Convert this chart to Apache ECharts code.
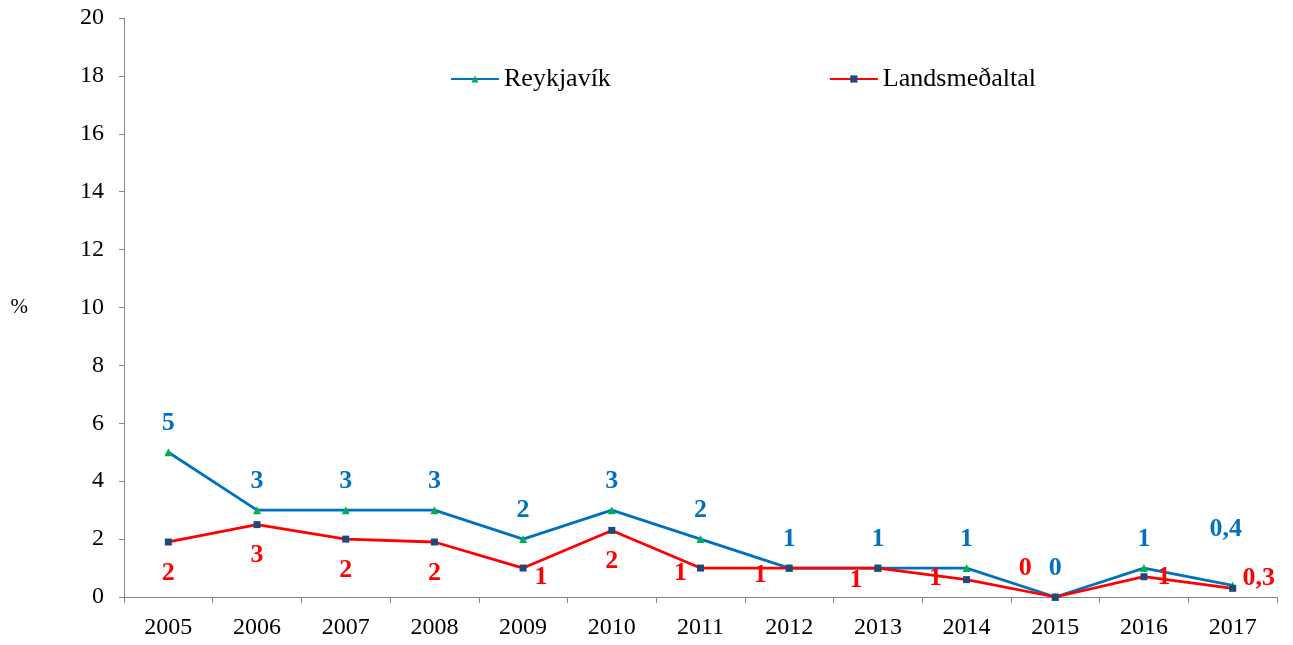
<!DOCTYPE html>
<html>
<head>
<meta charset="UTF-8">
<title></title>
<script src="https://cdn.jsdelivr.net/npm/echarts@6/dist/echarts.min.js"></script>
</head>
<body style="margin:0;background:#fff">
<div id="main" style="width:1293px;height:645px;"></div>
<script type="text/javascript">
var years = ['2005', '2006', '2007', '2008', '2009', '2010', '2011', '2012', '2013', '2014', '2015', '2016', '2017'];
var reykjavik = [5, 3, 3, 3, 2, 3, 2, 1, 1, 1, 0, 1, 0.4];
var landsmedaltal = [1.9, 2.5, 2.0, 1.9, 1.0, 2.3, 1.0, 1.0, 1.0, 0.6, 0.0, 0.7, 0.3];
var reykjavikLabels = ['5', '3', '3', '3', '2', '3', '2', '1', '1', '1', '0', '1', '0,4'];
var landsLabels = ['2', '3', '2', '2', '1', '2', '1', '1', '1', '1', '0', '1', '0,3'];
var yTicks = [0, 2, 4, 6, 8, 10, 12, 14, 16, 18, 20];

// label offsets for the red series (placement only)
var redOffsets = [[0, 31], [0, 31], [0, 31], [0, 31], [18, 9], [0, 31], [-20, 5], [-29, 7], [-22, 12], [-31, -1], [-30, -29], [20, 1], [26, -10]];

var font = 'Liberation Serif';

var blueData = reykjavik.map(function (v, i) {
	return {
		value: v,
		label: {
			formatter: reykjavikLabels[i],
			offset: i === 12 ? [-7, -27] : [0, 0]
		}
	};
});
var redData = landsmedaltal.map(function (v, i) {
	return {
		value: v,
		label: {
			formatter: landsLabels[i],
			offset: redOffsets[i]
		}
	};
});

var myChart = echarts.init(document.getElementById('main'));
myChart.setOption({
	backgroundColor: '#fff',
	animation: false,
	grid: { left: 124, right: 16, top: 18, bottom: 48 },
	legend: {
		top: 61,
		left: 445,
		itemGap: 218,
		itemWidth: 48,
		itemHeight: 9,
		textStyle: { fontFamily: font, fontSize: 26, color: '#000' },
		data: ['Reykjavík', 'Landsmeðaltal']
	},
	xAxis: {
		type: 'category',
		data: years,
		boundaryGap: true,
		axisLine: { lineStyle: { color: '#868686', width: 1 } },
		axisTick: { show: true, length: 6, lineStyle: { color: '#868686' } },
		axisLabel: { fontFamily: font, fontSize: 24, color: '#000', margin: 19 },
		splitLine: { show: false }
	},
	yAxis: {
		type: 'value',
		min: yTicks[0],
		max: yTicks[yTicks.length - 1],
		interval: 2,
		name: '%',
		nameLocation: 'middle',
		nameRotate: 0,
		nameGap: 96,
		nameTextStyle: { fontFamily: font, fontSize: 21, color: '#000' },
		axisLine: { show: true, lineStyle: { color: '#868686', width: 1 } },
		axisTick: { show: true, length: 5, lineStyle: { color: '#868686' } },
		axisLabel: { fontFamily: font, fontSize: 24, color: '#000', margin: 20 },
		splitLine: { show: false }
	},
	series: [{
		name: 'Reykjavík',
		type: 'line',
		data: blueData,
		color: '#0070c0',
		lineStyle: { color: '#0070c0', width: 2.8 },
		symbol: 'triangle',
		symbolSize: 8,
		itemStyle: { color: '#00b050' },
		z: 2,
		label: {
			show: true,
			position: 'top',
			distance: 12,
			color: '#0070c0',
			fontFamily: font,
			fontWeight: 'bold',
			fontSize: 26
		}
	}, {
		name: 'Landsmeðaltal',
		type: 'line',
		data: redData,
		color: '#ff0000',
		lineStyle: { color: '#ff0000', width: 2.8 },
		symbol: 'rect',
		symbolSize: 7,
		itemStyle: { color: '#1f497d' },
		z: 3,
		label: {
			show: true,
			position: 'inside',
			color: '#ff0000',
			fontFamily: font,
			fontWeight: 'bold',
			fontSize: 26
		}
	}]
});
</script>
</body>
</html>
